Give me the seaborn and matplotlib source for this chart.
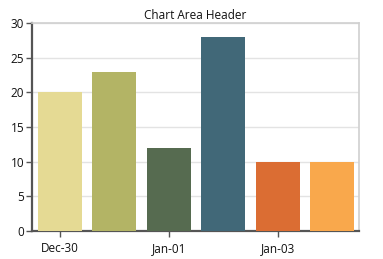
import matplotlib
matplotlib.use("Agg")
import matplotlib.pyplot as plt
import seaborn as sns
import pandas as pd

dates = ["Dec-30", "Dec-31", "Jan-01", "Jan-02", "Jan-03", "Jan-04"]
values = [20, 23, 12, 28, 10, 10]
colors = ["#E5DA94", "#B3B465", "#566B50", "#416878", "#DB6D33", "#F9A84C"]

sns.set_style("white")
plt.rcParams['font.family'] = ['Open Sans', 'DejaVu Sans']

df = pd.DataFrame({"date": dates, "value": values})

fig = plt.figure(figsize=(3.83, 2.59), dpi=100)
ax = fig.add_axes([32/383, 28/259, 327/383, 208/259])
sns.barplot(data=df, x="date", y="value", hue="date", palette=colors,
            width=0.81, legend=False, ax=ax, saturation=1, zorder=3,
            edgecolor="none")
ax.set_xlim(-0.51, 5.49)
ax.set_ylim(0, 30)
ax.set_yticks([0, 5, 10, 15, 20, 25, 30])
ax.yaxis.grid(True, color="#E3E3E3", linewidth=1, zorder=0)
ax.set_axisbelow(True)
ax.set_xticks([0, 2, 4])
ax.set_xticklabels(["Dec-30", "Jan-01", "Jan-03"])
ax.set_xlabel("")
ax.set_ylabel("")
for s in ["top", "right"]:
    ax.spines[s].set_color("#D0D0D0")
    ax.spines[s].set_linewidth(1.2)
for s in ["left", "bottom"]:
    ax.spines[s].set_color("#555555")
    ax.spines[s].set_linewidth(1.6)
ax.tick_params(axis="both", direction="out", length=4, width=1, color="#555555",
               labelsize=8.5, labelcolor="#111111", left=True, bottom=True)
ax.tick_params(axis="x", pad=4)
ax.tick_params(axis="y", pad=1.5)
ax.set_title("Chart Area Header", fontsize=8.5, color="#111111", pad=3)
fig.savefig("out.png", dpi=100)
